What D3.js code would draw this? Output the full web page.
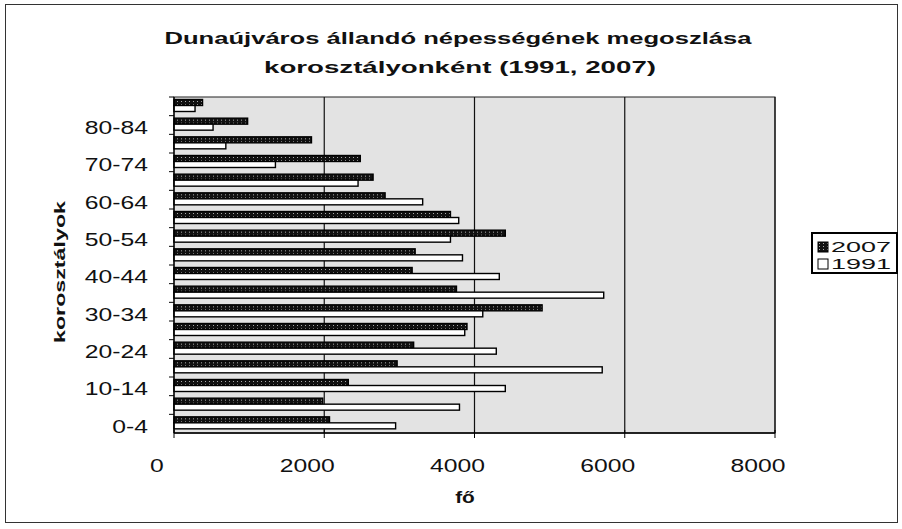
<html lang="hu">
<head>
<meta charset="UTF-8">
<title>Dunaújváros állandó népessége</title>
<script src="https://d3js.org/d3.v7.min.js"></script>
<style>
  body { margin: 0; background: #fff; }
  text { font-family: "Liberation Sans", Arial, sans-serif; fill: #111; }
</style>
</head>
<body>
<div id="chart"></div>
<script>

// age groups, bottom to top
const ageGroups = ["0-4", "5-9", "10-14", "15-19", "20-24", "25-29", "30-34", "35-39", "40-44",
  "45-49", "50-54", "55-59", "60-64", "65-69", "70-74", "75-79", "80-84", "85-"];
const pop2007 = [2070, 1980, 2320, 2970, 3190, 3900, 4900, 3760, 3170,
  3210, 4410, 3680, 2810, 2650, 2480, 1830, 980, 380];
const pop1991 = [2950, 3800, 4410, 5700, 4290, 3870, 4110, 5720, 4330,
  3840, 3680, 3790, 3310, 2450, 1350, 690, 520, 280];
const seriesNames = ["2007", "1991"];
const xTicks = [0, 2000, 4000, 6000, 8000];

const W = 902, H = 529;
const plot = { left: 174, right: 775, top: 97, bottom: 433 };

const svg = d3.select("#chart")
  .append("svg")
  .attr("width", W)
  .attr("height", H);

// dark speckled fill for the 2007 bars
const defs = svg.append("defs");
const pat = defs.append("pattern")
  .attr("id", "dark")
  .attr("width", 4).attr("height", 3)
  .attr("patternUnits", "userSpaceOnUse");
pat.append("rect").attr("width", 4).attr("height", 3).attr("fill", "#111");
pat.append("rect").attr("x", 1).attr("y", 1).attr("width", 1).attr("height", 1).attr("fill", "#aaa");

// scanned text is wider than the font, stretch it
function stretch(sel, factor, anchor) {
  sel.each(function () {
    const t = d3.select(this);
    const len = this.getComputedTextLength() * factor;
    const x = +t.attr("x") || 0;
    t.attr("text-anchor", "start")
      .attr("textLength", len)
      .attr("lengthAdjust", "spacingAndGlyphs")
      .attr("x", anchor === "end" ? x - len : anchor === "middle" ? x - len / 2 : x);
  });
}
function fit(sel, len, anchor) {
  sel.each(function () {
    const t = d3.select(this);
    const x = +t.attr("x") || 0;
    t.attr("text-anchor", "start")
      .attr("textLength", len)
      .attr("lengthAdjust", "spacingAndGlyphs")
      .attr("x", anchor === "middle" ? x - len / 2 : x);
  });
}

// outer frame
svg.append("rect")
  .attr("x", 5.5).attr("y", 4.5)
  .attr("width", 892).attr("height", 518)
  .attr("fill", "none")
  .attr("stroke", "#333");

const x = d3.scaleLinear()
  .domain([0, 8000])
  .range([plot.left, plot.right]);

const y = d3.scaleBand()
  .domain(ageGroups.slice().reverse())
  .range([plot.top, plot.bottom]);

const ySub = d3.scaleBand()
  .domain(seriesNames)
  .range([2.5, 14.5]);

// plot area
svg.append("rect")
  .attr("x", plot.left).attr("y", plot.top)
  .attr("width", plot.right - plot.left)
  .attr("height", plot.bottom - plot.top)
  .attr("fill", "#e3e3e3")
  .attr("stroke", "#222");

// vertical gridlines
svg.append("g")
  .selectAll("line")
  .data(xTicks.slice(1))
  .join("line")
  .attr("x1", d => x(d)).attr("x2", d => x(d))
  .attr("y1", plot.top).attr("y2", plot.bottom)
  .attr("stroke", "#111")
  .attr("stroke-width", 1.2);

// bars
const rows = ageGroups.map((g, i) => ({ group: g, values: [pop2007[i], pop1991[i]] }));

const gRows = svg.append("g")
  .selectAll("g")
  .data(rows)
  .join("g")
  .attr("transform", d => `translate(0, ${y(d.group)})`);

gRows.selectAll("rect")
  .data(d => d.values.map((v, k) => ({ key: seriesNames[k], value: v })))
  .join("rect")
  .attr("x", x(0))
  .attr("y", d => ySub(d.key))
  .attr("width", d => x(d.value) - x(0))
  .attr("height", ySub.bandwidth())
  .attr("fill", d => d.key === "2007" ? "url(#dark)" : "#fff")
  .attr("stroke", "#000")
  .attr("stroke-width", 1.4);

// y axis: ticks between categories, labels on every second group
const yAxis = svg.append("g");
yAxis.append("line")
  .attr("x1", plot.left).attr("x2", plot.left)
  .attr("y1", plot.top).attr("y2", plot.bottom)
  .attr("stroke", "#000").attr("stroke-width", 1.3);
yAxis.selectAll(".tick")
  .data(ageGroups)
  .join("line")
  .attr("class", "tick")
  .attr("x1", plot.left - 5).attr("x2", plot.left)
  .attr("y1", d => y(d)).attr("y2", d => y(d))
  .attr("stroke", "#000");

yAxis.selectAll("text")
  .data(ageGroups.filter((d, i) => i % 2 === 0))
  .join("text")
  .attr("x", 148)
  .attr("y", d => y(d) + y.bandwidth() / 2 + 9)
  .attr("font-size", 19)
  .text(d => d)
  .call(stretch, 1.3, "end");

// x axis
const xAxis = svg.append("g");
xAxis.append("line")
  .attr("x1", plot.left).attr("x2", plot.right)
  .attr("y1", plot.bottom).attr("y2", plot.bottom)
  .attr("stroke", "#000").attr("stroke-width", 1.3);
xAxis.selectAll(".tick")
  .data(xTicks)
  .join("line")
  .attr("class", "tick")
  .attr("x1", d => x(d)).attr("x2", d => x(d))
  .attr("y1", plot.bottom - 3).attr("y2", plot.bottom + 5)
  .attr("stroke", "#000");
xAxis.selectAll("text")
  .data(xTicks)
  .join("text")
  .attr("x", d => x(d) - 17)
  .attr("y", 472)
  .attr("font-size", 19)
  .text(d => d)
  .call(stretch, 1.3, "middle");

// titles
svg.append("text")
  .attr("x", 458).attr("y", 44)
  .attr("font-size", 17).attr("font-weight", "bold")
  .text("Dunaújváros állandó népességének megoszlása")
  .call(fit, 587, "middle");
svg.append("text")
  .attr("x", 460).attr("y", 73)
  .attr("font-size", 17).attr("font-weight", "bold")
  .text("korosztályonként (1991, 2007)")
  .call(fit, 392, "middle");

svg.append("text")
  .attr("x", 465).attr("y", 503)
  .attr("font-size", 16).attr("font-weight", "bold")
  .text("fő")
  .call(stretch, 1.3, "middle");

svg.append("g")
  .attr("transform", "translate(65, 272) rotate(-90)")
  .append("text")
  .attr("x", 0).attr("y", 0)
  .attr("font-size", 15).attr("font-weight", "bold")
  .text("korosztályok")
  .call(fit, 142, "middle");

// legend
svg.append("rect")
  .attr("x", 812).attr("y", 233)
  .attr("width", 85).attr("height", 40)
  .style("fill", "#fff")
  .style("stroke", "#000")
  .style("stroke-width", "2px");
const items = svg.append("g")
  .selectAll("g")
  .data(seriesNames)
  .join("g")
  .attr("transform", (d, i) => `translate(818, ${242 + i * 17})`);
items.append("rect")
  .attr("width", 10).attr("height", 10)
  .attr("fill", d => d === "2007" ? "url(#dark)" : "#fff")
  .attr("stroke", "#000");
items.append("text")
  .attr("x", 13).attr("y", 10)
  .attr("font-size", 14)
  .text(d => d)
  .call(fit, 60, "start");

</script>
</body>
</html>
